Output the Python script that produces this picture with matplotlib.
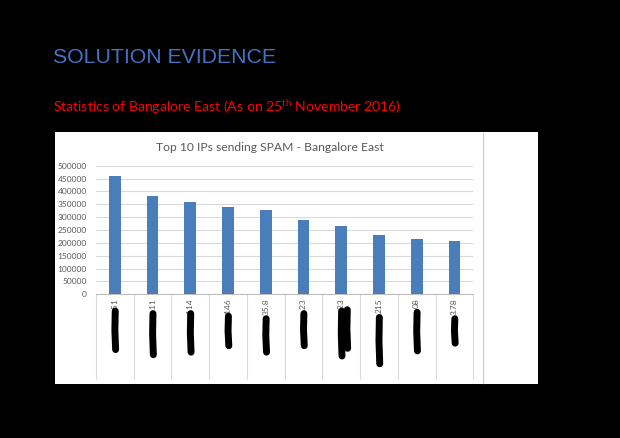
import numpy as np
import matplotlib.pyplot as plt
from matplotlib.patches import Rectangle
from matplotlib.lines import Line2D
from matplotlib.transforms import blended_transform_factory

# --- Data ---
ip_labels = ['.51', '.11', '.114', '.146', '35.8', '.23', '.23', '215', '08', '3.78']
spam_counts = [460000, 382000, 360000, 338000, 329000, 289000, 265500, 230500, 215000, 208500]
y_ticks = np.arange(0, 500001, 50000)

# hand-drawn redaction marks over the IPs: (category, top, bottom) in axes fraction
redactions = [(0, -0.13, -0.43), (1, -0.15, -0.47), (2, -0.15, -0.45), (3, -0.17, -0.40),
              (4, -0.19, -0.45), (5, -0.15, -0.40), (6, -0.13, -0.48), (6.15, -0.12, -0.42),
              (7, -0.18, -0.54), (8, -0.14, -0.44), (9, -0.19, -0.38)]

bar_color = '#4A7EBB'
grid_color = '#D9D9D9'
text_gray = '#595959'

fig = plt.figure(figsize=(6.2, 4.38), dpi=100)
fig.patch.set_facecolor('black')

# white chart box pasted on the slide
fig.add_artist(Rectangle((55 / 620, 1 - 384 / 438), (538 - 55) / 620, (384 - 132) / 438,
                         transform=fig.transFigure, facecolor='white', edgecolor='none', zorder=-2))
fig.add_artist(Line2D([483 / 620, 483 / 620], [1 - 383 / 438, 1 - 133 / 438],
                      transform=fig.transFigure, color='#CFCFCF', lw=0.9, zorder=-1))

# slide titles
fig.text(0.085, 0.8555, 'SOLUTION EVIDENCE', color='#4472C4', fontsize=15.3,
         family='Liberation Sans', va='baseline', ha='left')
fig.text(0.085, 0.745, r'Statistics of Bangalore East (As on 25$^{\mathregular{th}}$ November 2016)',
         color='#FF0000', fontsize=10.1, family='Lato', va='baseline', ha='left')

ax = fig.add_axes([96 / 620, 1 - 294.3 / 438, 377.3 / 620, 128.6 / 438])
ax.set_zorder(2)
ax.patch.set_alpha(0)
x = np.arange(len(spam_counts))
ax.bar(x, spam_counts, width=0.31, color=bar_color, zorder=3)

ax.set_xlim(-0.5, len(spam_counts) - 0.5)
ax.set_ylim(0, 500000)
ax.set_yticks(y_ticks)
ax.set_yticklabels([str(v) for v in y_ticks], fontsize=6, color=text_gray, family='Lato')
ax.yaxis.grid(True, color=grid_color, lw=0.8, zorder=0)
ax.set_axisbelow(True)
ax.tick_params(axis='y', length=0, pad=6.7)
ax.set_xticks(x)
ax.set_xticklabels(ip_labels, rotation=90, fontsize=6, color=text_gray, family='Lato')
ax.tick_params(axis='x', length=0, pad=3)
for side in ['top', 'right', 'left']:
    ax.spines[side].set_visible(False)
ax.spines['bottom'].set_color('#BFBFBF')
ax.spines['bottom'].set_linewidth(0.8)

# category dividers under the axis
trans = blended_transform_factory(ax.transData, ax.transAxes)
ax.vlines(np.arange(len(spam_counts) + 1) - 0.5, -0.66, 0, transform=trans,
          color=grid_color, lw=0.8, clip_on=False)

for cat, top, bottom in redactions:
    ax.plot([cat + 0.01, cat, cat + 0.02], [top, (top + bottom) / 2, bottom], transform=trans,
            color='black', lw=5, solid_capstyle='round', clip_on=False, zorder=5)

fig.text(270 / 620, 0.656, 'Top 10 IPs sending SPAM - Bangalore East', color=text_gray,
         fontsize=8.7, family='Lato', ha='center', va='baseline')

fig.savefig('out.png', dpi=100, facecolor=fig.get_facecolor())
